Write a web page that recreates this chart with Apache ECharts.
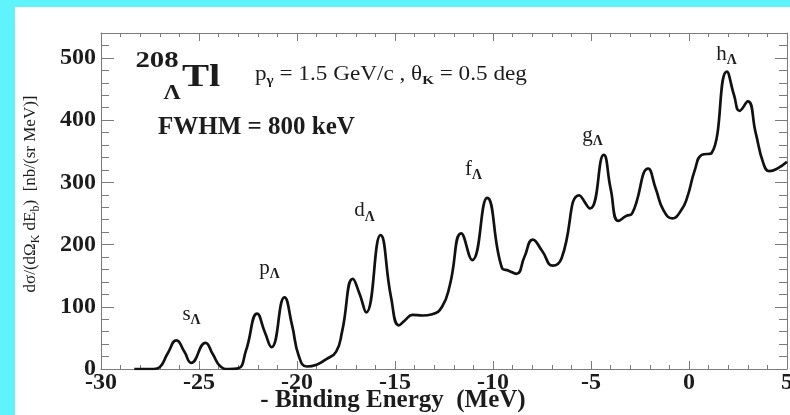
<!DOCTYPE html>
<html>
<head>
<meta charset="utf-8">
<script src="https://cdn.jsdelivr.net/npm/echarts@6/dist/echarts.min.js"></script>
<style>
  html, body { margin: 0; padding: 0; background: #5ff4fb; }
  #main { position: absolute; left: 15px; top: 7px; width: 775px; height: 408px; background: #fff; }
</style>
</head>
<body>
<div id="main"></div>
<script>
// - binding energy (MeV) and cross section (nb/(sr MeV))
const energy = [
  -28.3, -27.3, -27.0, -26.6, -26.15, -25.75, -25.4, -24.67, -24.3, -23.9, -23.5, -23.0,
  -22.6, -22.03, -21.65, -21.3, -20.64, -20.25, -19.9, -19.5, -19.0, -18.5, -18.0, -17.7,
  -17.15, -16.8, -16.47, -15.74, -15.2, -14.8, -14.5, -14.1, -13.6, -13.1, -12.6, -12.2,
  -11.62, -11.06, -10.3, -9.55, -9.2, -8.8, -8.4, -7.97, -7.5, -6.95, -6.5,
  -5.6, -5.05, -4.35, -4.0, -3.6, -3.2, -2.9, -2.08, -1.7, -1.3, -0.85, -0.4, -0.1,
  0.3, 0.65, 1.15, 1.93, 2.3, 2.58, 3.0, 3.4, 3.8, 4.1, 4.5, 5.0
];
const sigma = [
  0, 0, 3, 25, 46, 28, 10, 42, 24, 4, 0, 1,
  30, 89, 60, 35, 115, 70, 20, 4, 7, 16, 28, 60,
  145, 120, 91, 215, 115, 70, 78, 87, 86, 88, 100, 135,
  218, 175, 275, 163, 158, 153, 180, 208, 190, 166, 178,
  279, 258, 344, 290, 238, 246, 250, 322, 290, 255, 242, 255, 275,
  320, 344, 347, 478, 440, 415, 430, 380, 330, 318, 322, 333
];

// shell labels (s, p, d, f, g, h of Lambda), centres in data units
const shellNames = ['s', 'p', 'd', 'f', 'g', 'h'];
const shellX = [-25.38, -21.4, -16.56, -11.0, -4.92, 1.91];
const shellY = [88, 161, 254, 321, 376, 506];

const xMin = -30, xMax = 5, xStep = 5;
const yMin = 0, yMax = 540, yStep = 100, yMinorStep = 20;

const serif = '"Liberation Serif", "DejaVu Serif", serif';
const axisGray = '#7a7a7a';
const ink = '#1c1c1c';

const chart = echarts.init(document.getElementById('main'));

function xAxisDef(pos, labels) {
  return {
    type: 'value', position: pos, min: xMin, max: xMax, interval: xStep,
    axisLine: { show: true, onZero: false, lineStyle: { color: axisGray, width: 1 } },
    axisTick: { show: true, inside: true, length: 8, lineStyle: { color: axisGray } },
    minorTick: { show: true, splitNumber: 5, length: 4, lineStyle: { color: axisGray } },
    splitLine: { show: false },
    minorSplitLine: { show: false },
    axisLabel: {
      show: labels, margin: 2, color: ink,
      fontFamily: serif, fontSize: 24, fontWeight: 'bold'
    }
  };
}

function yAxisDef(pos, step, tickLen, line, labels) {
  return {
    type: 'value', position: pos, min: yMin, max: yMax, interval: step,
    axisLine: { show: line, onZero: false, lineStyle: { color: axisGray, width: 1 } },
    axisTick: { show: true, inside: true, length: tickLen, lineStyle: { color: axisGray } },
    splitLine: { show: false },
    axisLabel: {
      show: labels, margin: 5, color: ink, showMaxLabel: false,
      fontFamily: serif, fontSize: 24, fontWeight: 'bold'
    }
  };
}

chart.setOption({
  animation: false,
  backgroundColor: '#fff',
  grid: { left: 86, right: 3, top: 26, bottom: 46, outerBoundsMode: 'none', containLabel: false },
  xAxis: [xAxisDef('bottom', true), xAxisDef('top', false)],
  yAxis: [
    yAxisDef('left', yStep, 13, true, true),
    yAxisDef('left', yMinorStep, 8, false, false),
    yAxisDef('right', yStep, 12, true, false),
    yAxisDef('right', yMinorStep, 8, false, false)
  ],
  series: [{
    type: 'line',
    xAxisIndex: 0, yAxisIndex: 0,
    data: energy.map((e, i) => [e, sigma[i]]),
    smooth: 0.5,
    showSymbol: false,
    lineStyle: { color: '#111', width: 2.7 },
    markPoint: {
      symbol: 'circle', symbolSize: 0,
      label: {
        show: true, position: 'inside',
        formatter: p => '{m|' + p.name + '}{s|Λ}',
        rich: {
          m: { fontFamily: serif, fontSize: 21, color: ink, lineHeight: 26, verticalAlign: 'middle' },
          s: { fontFamily: serif, fontSize: 14, fontWeight: 'bold', color: ink, lineHeight: 14, verticalAlign: 'bottom' }
        }
      },
      data: shellNames.map((n, i) => ({ name: n, coord: [shellX[i], shellY[i]] }))
    }
  }],
  graphic: [
    {
      type: 'text', x: 16, y: 187, rotation: Math.PI / 2,
      style: {
        text: '{a|dσ/(dΩ}{b|K}{a| dE}{b|b}{a|)  [nb/(sr MeV)]}',
        align: 'center', verticalAlign: 'middle',
        rich: {
          a: { fontFamily: serif, fontSize: 17, fill: ink, lineHeight: 22, verticalAlign: 'middle' },
          b: { fontFamily: serif, fontSize: 12, fill: ink, lineHeight: 12, verticalAlign: 'bottom' }
        }
      }
    },
    {
      type: 'text', x: 378, y: 394,
      style: { text: '- Binding Energy  (MeV)', font: 'bold 25px ' + serif, fill: ink, align: 'center', verticalAlign: 'middle' }
    },
    {
      type: 'text', x: 142, y: 54, scaleX: 1.2,
      style: { text: '208', font: 'bold 24px ' + serif, fill: ink, align: 'center', verticalAlign: 'middle' }
    },
    {
      type: 'text', x: 167, y: 71, scaleX: 1.27,
      style: { text: 'Tl', font: 'bold 32px ' + serif, fill: ink, align: 'left', verticalAlign: 'middle' }
    },
    {
      type: 'text', x: 157, y: 87, scaleX: 1.2,
      style: { text: 'Λ', font: 'bold 20px ' + serif, fill: ink, align: 'center', verticalAlign: 'middle' }
    },
    {
      type: 'text', x: 240, y: 68, scaleX: 1.16,
      style: {
        text: '{a|p}{b|γ}{a| = 1.5 GeV/c , θ}{b|K}{a| = 0.5 deg}',
        align: 'left', verticalAlign: 'middle',
        rich: {
          a: { fontFamily: serif, fontSize: 20, fill: ink, lineHeight: 24, verticalAlign: 'middle' },
          b: { fontFamily: serif, fontSize: 13, fontWeight: 'bold', fill: ink, lineHeight: 13, verticalAlign: 'bottom' }
        }
      }
    },
    {
      type: 'text', x: 143, y: 121,
      style: { text: 'FWHM = 800 keV', font: 'bold 25px ' + serif, fill: ink, align: 'left', verticalAlign: 'middle' }
    }
  ]
});
</script>
</body>
</html>
